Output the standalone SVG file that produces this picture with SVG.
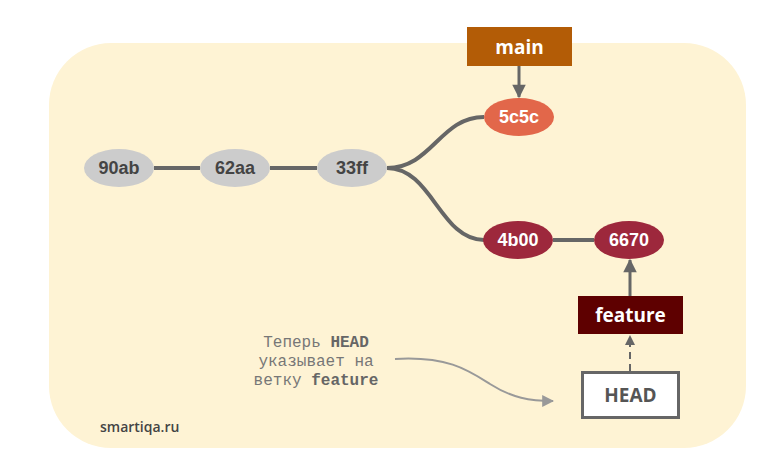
<svg xmlns="http://www.w3.org/2000/svg" width="768" height="468" viewBox="0 0 768 468">
<style>
.node text{font-family:"Liberation Sans",Arial,sans-serif;font-weight:bold;font-size:18px;text-anchor:middle;dominant-baseline:central}
.node text.lbl{font-family:"Open Sans","Liberation Sans",sans-serif;font-size:19px}
.gray ellipse{fill:#cccccc}
.gray text{fill:#444444}
.wt{fill:#ffffff}
.edge{stroke:#666666;stroke-width:4;fill:none}
.ptr{stroke:#666666;stroke-width:3;fill:none}
.note{font-family:"Liberation Mono","DejaVu Sans Mono",monospace;font-size:16px;fill:#777777;text-anchor:middle}
.note tspan.b{font-weight:bold;fill:#666666}
</style>
<defs>
<marker id="ah" viewBox="0 0 10 10" refX="9" refY="5" markerWidth="5" markerHeight="4.5" markerUnits="strokeWidth" orient="auto">
<path d="M0,0 L10,5 L0,10 z" fill="#666666"/>
</marker>
<marker id="ahs" viewBox="0 0 10 10" refX="9" refY="5" markerWidth="5" markerHeight="5" markerUnits="strokeWidth" orient="auto">
<path d="M0,0 L10,5 L0,10 z" fill="#666666"/>
</marker>
<marker id="ahn" viewBox="0 0 10 10" refX="9" refY="5" markerWidth="6" markerHeight="6" markerUnits="strokeWidth" orient="auto">
<path d="M0,0 L10,5 L0,10 z" fill="#999999"/>
</marker>
</defs>
<rect x="49" y="43" width="697" height="405" rx="62" ry="62" fill="#fef3d4"/>
<g id="connectors">
<path class="edge" d="M154,168 L200,168"/>
<path class="edge" d="M270,168 L317,168"/>
<path class="edge" d="M387,168 C432,168 440,117 484,117"/>
<path class="edge" d="M387,168 C432,168 440,240 484,240"/>
<path class="edge" d="M553,240 L594,240"/>
<path class="ptr" d="M519,66 L519,97" marker-end="url(#ah)"/>
<path class="ptr" d="M630,296 L630,260" marker-end="url(#ah)"/>
<path d="M630,371 L630,336" stroke="#666666" stroke-width="2" stroke-dasharray="7,5" fill="none" marker-end="url(#ahs)"/>
<path d="M395,359 C448,356 468,370 490,384 C512,398 530,401 553,401" stroke="#999999" stroke-width="2" fill="none" marker-end="url(#ahn)"/>
</g>
<g id="n90ab" class="node gray"><ellipse cx="119" cy="168" rx="35" ry="19"/><text x="119" y="168">90ab</text></g>
<g id="n62aa" class="node gray"><ellipse cx="235" cy="168" rx="35" ry="19"/><text x="235" y="168">62aa</text></g>
<g id="n33ff" class="node gray"><ellipse cx="352" cy="168" rx="35" ry="19"/><text x="352" y="168">33ff</text></g>
<g id="n5c5c" class="node"><ellipse cx="519" cy="117" rx="35" ry="19" fill="#e2674a"/><text class="wt" x="519" y="117">5c5c</text></g>
<g id="n4b00" class="node"><ellipse cx="518" cy="240" rx="35" ry="19" fill="#9d283c"/><text class="wt" x="518" y="240">4b00</text></g>
<g id="n6670" class="node"><ellipse cx="629" cy="240" rx="35" ry="19" fill="#9d283c"/><text class="wt" x="629" y="240">6670</text></g>
<g id="main" class="node"><rect x="467" y="27" width="105" height="39" fill="#b35c06"/><text class="wt lbl" x="519.5" y="46.5">main</text></g>
<g id="feature" class="node"><rect x="578" y="296" width="105" height="38" fill="#5e0000"/><text class="wt lbl" x="630.5" y="315">feature</text></g>
<g id="HEAD" class="node"><rect x="582.5" y="372.5" width="96" height="45" fill="#ffffff" stroke="#666666" stroke-width="3"/><text class="lbl" x="630.5" y="395" fill="#555555">HEAD</text></g>
<g id="note">
<text class="note" x="316" y="347">Теперь <tspan class="b">HEAD</tspan></text>
<text class="note" x="316" y="366">указывает на</text>
<text class="note" x="316" y="385">ветку <tspan class="b">feature</tspan></text>
</g>
<text x="100" y="432" font-family="'Open Sans','Liberation Sans',sans-serif" font-size="14" font-weight="600" fill="#444444">smartiqa.ru</text>
</svg>
